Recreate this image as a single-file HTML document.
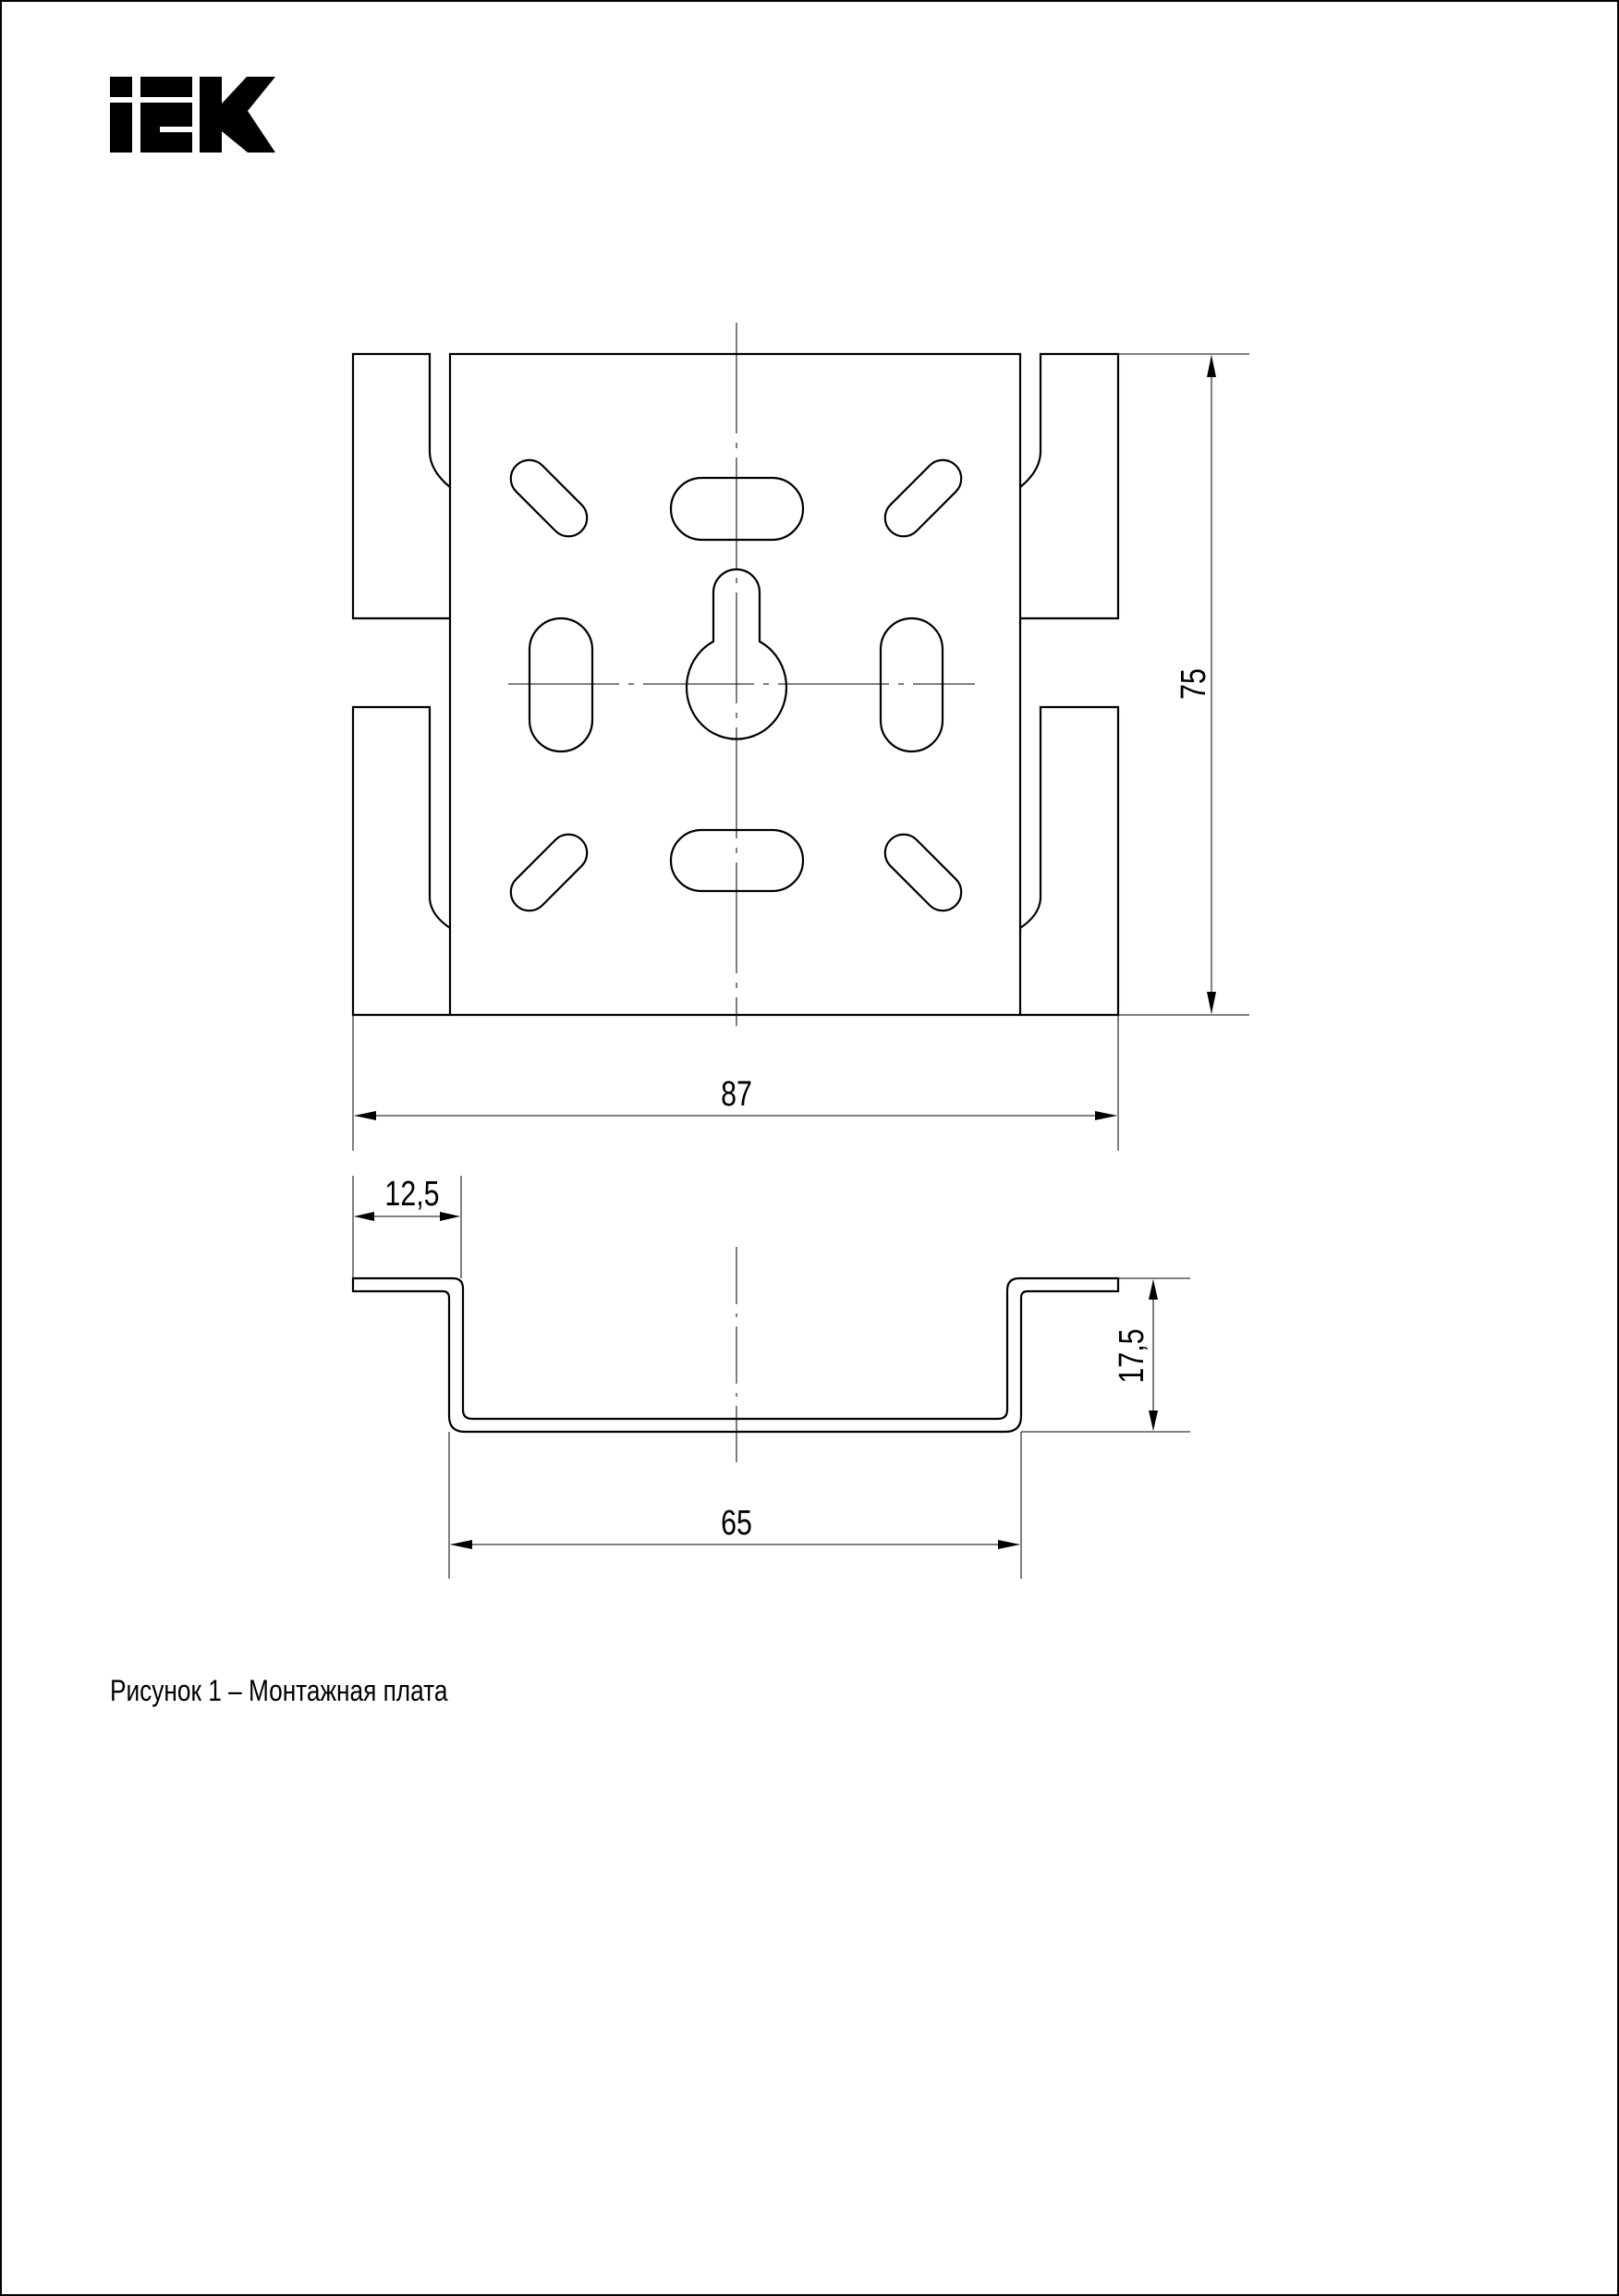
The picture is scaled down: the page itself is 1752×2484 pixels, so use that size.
<!DOCTYPE html>
<html><head><meta charset="utf-8"><style>
html,body{margin:0;padding:0;background:#fff}
svg{display:block}
text{font-family:"Liberation Sans Narrow","Liberation Sans",sans-serif;fill:#000}
</style></head><body>
<svg width="1752" height="2484" viewBox="0 0 1752 2484" xmlns="http://www.w3.org/2000/svg">
<rect x="1" y="1" width="1750" height="2482" fill="#fff" stroke="#000" stroke-width="2"/>
<g fill="#000">
<rect x="119" y="83" width="24" height="22"/>
<rect x="119" y="111" width="24" height="54"/>
<rect x="152" y="83" width="56" height="22"/>
<rect x="152" y="111" width="56" height="26"/>
<rect x="152" y="137" width="21" height="28"/>
<rect x="173" y="143" width="35" height="22"/>
<rect x="216" y="83" width="24" height="82"/>
<polygon points="240,112 267,83 298,83 268,120 298,165 268,165 240,142"/>
</g>
<g fill="none" stroke="#000" stroke-width="2.2">
<rect x="487" y="383" width="617" height="715"/>
<path d="M487,527 Q466,510 465,490 L465,383 L382,383 L382,669 L487,669"/>
<path d="M487,1004 Q466,990 465,972 L465,765 L382,765 L382,1098 L487,1098"/>
<path d="M1104,527 Q1125,510 1126,490 L1126,383 L1210,383 L1210,669 L1104,669"/>
<path d="M1104,1004 Q1125,990 1126,972 L1126,765 L1210,765 L1210,1098 L1104,1098"/>
<rect x="726" y="517" width="143" height="67" rx="33.5"/>
<rect x="726" y="898" width="143" height="66" rx="33"/>
<rect x="573" y="669" width="68" height="144" rx="34"/>
<rect x="953" y="669" width="67" height="144" rx="33.5"/>
<g transform="translate(594,539) rotate(45)"><rect x="-50" y="-20" width="100" height="40" rx="20"/></g>
<g transform="translate(999,539) rotate(-45)"><rect x="-50" y="-20" width="100" height="40" rx="20"/></g>
<g transform="translate(594,944) rotate(-45)"><rect x="-50" y="-20" width="100" height="40" rx="20"/></g>
<g transform="translate(999,944) rotate(45)"><rect x="-50" y="-20" width="100" height="40" rx="20"/></g>
<path d="M772,694 L772,641 A25,25 0 0 1 822,641 L822,694 A54,56 0 1 1 772,694 Z"/>
<path d="M382,1383 L490,1383 Q501,1383 501,1394 L501,1525 Q501,1535 511,1535 L1080,1535 Q1090,1535 1090,1525 L1090,1396 Q1090,1383 1103,1383 L1210,1383 L1210,1397 L1112,1397 Q1105,1397 1105,1404 L1105,1532 Q1105,1549 1088,1549 L503,1549 Q486,1549 486,1532 L486,1404 Q486,1397 479,1397 L382,1397 Z"/>
</g>
<g stroke="#000" stroke-width="1" fill="none">
<path d="M797,349 L797,1110" stroke-dasharray="120,10,6,10"/>
<path d="M550,740 L1055,740" stroke-dasharray="120,10,6,10"/>
<path d="M797,1349 L797,1582" stroke-dasharray="62,10,4,10"/>
</g>
<g stroke="#000" stroke-width="1" fill="none">
<line x1="1210" y1="383" x2="1352" y2="383"/>
<line x1="1210" y1="1098" x2="1352" y2="1098"/>
<line x1="1311" y1="385" x2="1311" y2="1096"/>
<line x1="382" y1="1098" x2="382" y2="1245"/>
<line x1="1210" y1="1098" x2="1210" y2="1245"/>
<line x1="384" y1="1207" x2="1208" y2="1207"/>
<line x1="382" y1="1272" x2="382" y2="1383"/>
<line x1="499" y1="1272" x2="499" y2="1383"/>
<line x1="384" y1="1316" x2="497" y2="1316"/>
<line x1="1210" y1="1383" x2="1288" y2="1383"/>
<line x1="1105" y1="1549" x2="1288" y2="1549"/>
<line x1="1248" y1="1385" x2="1248" y2="1547"/>
<line x1="486" y1="1549" x2="486" y2="1708"/>
<line x1="1105" y1="1549" x2="1105" y2="1708"/>
<line x1="488" y1="1671" x2="1103" y2="1671"/>
</g>
<g fill="#000">
<polygon points="1311,384 1306,408 1316,408"/>
<polygon points="1311,1097 1306,1073 1316,1073"/>
<polygon points="383,1207 407,1202 407,1212"/>
<polygon points="1209,1207 1185,1202 1185,1212"/>
<polygon points="383,1316 405,1311 405,1321"/>
<polygon points="498,1316 476,1311 476,1321"/>
<polygon points="1248,1384 1243,1406 1253,1406"/>
<polygon points="1248,1548 1243,1526 1253,1526"/>
<polygon points="487,1671 511,1666 511,1676"/>
<polygon points="1104,1671 1080,1666 1080,1676"/>
</g>
<g font-size="38">
<text x="0" y="0" text-anchor="middle" transform="translate(1304,740) rotate(-90) scale(0.8,1)">75</text>
<text x="0" y="0" text-anchor="middle" transform="translate(797,1196) scale(0.8,1)">87</text>
<text x="0" y="0" text-anchor="middle" transform="translate(446,1304) scale(0.8,1)">12,5</text>
<text x="0" y="0" text-anchor="middle" transform="translate(1237,1467) rotate(-90) scale(0.8,1)">17,5</text>
<text x="0" y="0" text-anchor="middle" transform="translate(797,1660) scale(0.8,1)">65</text>
</g>
<text x="0" y="0" font-size="32" transform="translate(119,1840) scale(0.82,1)">Рисунок 1 – Монтажная плата</text>
</svg>
</body></html>
